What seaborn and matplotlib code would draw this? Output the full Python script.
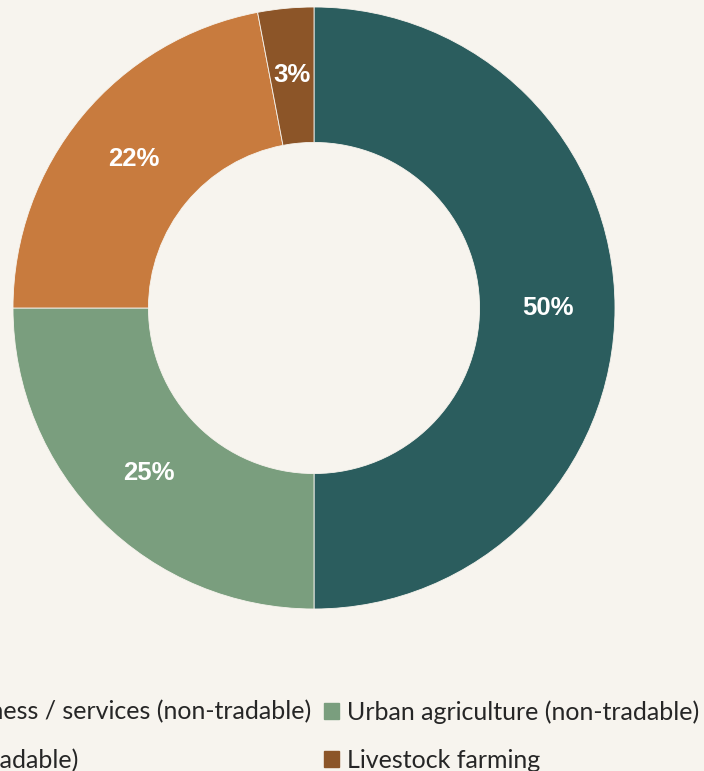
import matplotlib
matplotlib.use("Agg")
import matplotlib.pyplot as plt
import matplotlib.patches as mpatches
import seaborn as sns

categories = [
    "Small business / services (non-tradable)",
    "Urban agriculture (non-tradable)",
    "Crafting (tradable)",
    "Livestock farming",
]
values = [50, 25, 22, 3]
colors = ["#2b5d5e", "#7a9e7e", "#c87b3e", "#8c5528"]
bg = "#f7f4ee"

sns.set_theme(style="white")
plt.rcParams["font.family"] = ["Liberation Sans", "DejaVu Sans"]

fig = plt.figure(figsize=(7.04, 7.71), dpi=100, facecolor=bg)
ax = fig.add_axes([0, 0, 1, 1])
ax.set_facecolor(bg)

cx, cy, R = 314, 308, 301
wedges, texts, autotexts = ax.pie(
    values, colors=colors, startangle=90, counterclock=False,
    radius=1.0, autopct="%.0f%%", pctdistance=0.776,
    wedgeprops=dict(width=0.45, edgecolor=bg, linewidth=0.6),
    textprops=dict(color="white", fontsize=18.5, fontweight="bold"),
)
ax.set_aspect("auto")
ax.set_xlim(-cx / R, (704 - cx) / R)
ax.set_ylim((cy - 771) / R, cy / R)
ax.axis("off")

order = [0, 2, 1, 3]
handles = [mpatches.Patch(color=colors[i]) for i in order]
labels = [categories[i] for i in order]
fig.legend(handles, labels, ncol=2, loc="upper right",
           bbox_to_anchor=(699 / 704, 1 - 700 / 771), frameon=False,
           borderpad=0, borderaxespad=0, handlelength=0.6, handleheight=0.6,
           handletextpad=0.33, columnspacing=0.5, labelspacing=1.0,
           prop=dict(family="Lato", size=18))

fig.savefig("out.png", dpi=100, facecolor=bg)
